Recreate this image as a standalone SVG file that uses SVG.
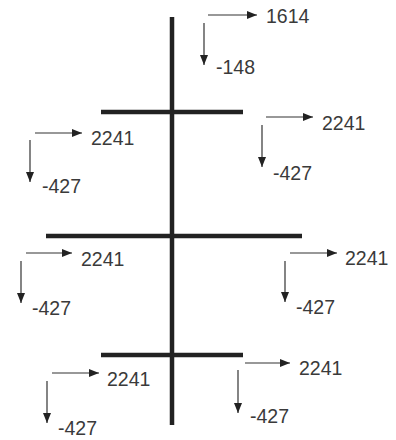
<svg xmlns="http://www.w3.org/2000/svg" width="396" height="440" viewBox="0 0 396 440">
<style>
.m{stroke:#222;stroke-width:4.5;fill:none}
.a{stroke:#333;stroke-width:1.2;fill:none;marker-end:url(#ah)}
text{font-family:"Liberation Sans",Arial,sans-serif;font-size:19.5px;fill:#3a3a3a}
</style>
<defs>
<marker id="ah" viewBox="0 0 10 8" refX="10" refY="4" markerWidth="10" markerHeight="8" markerUnits="userSpaceOnUse" orient="auto">
<path d="M0,0L10,4L0,8z" fill="#222"/>
</marker>
</defs>
<g id="structure">
<line class="m" x1="172" y1="17" x2="172" y2="425"/>
<line class="m" x1="101" y1="112" x2="243" y2="112"/>
<line class="m" x1="46" y1="236" x2="302" y2="236"/>
<line class="m" x1="101" y1="355" x2="243" y2="355"/>
</g>
<g id="connectors">
<line class="a" x1="208" y1="15" x2="257" y2="15"/>
<line class="a" x1="204" y1="23" x2="204" y2="65"/>
<line class="a" x1="35" y1="133" x2="82" y2="133"/>
<line class="a" x1="30" y1="140" x2="30" y2="182"/>
<line class="a" x1="266" y1="117" x2="313" y2="117"/>
<line class="a" x1="262" y1="125" x2="262" y2="167"/>
<line class="a" x1="26" y1="253" x2="72" y2="253"/>
<line class="a" x1="21" y1="261" x2="21" y2="303"/>
<line class="a" x1="290" y1="253" x2="337" y2="253"/>
<line class="a" x1="285" y1="261" x2="285" y2="302"/>
<line class="a" x1="52" y1="373" x2="99" y2="373"/>
<line class="a" x1="47" y1="381" x2="47" y2="423"/>
<line class="a" x1="245" y1="363" x2="290" y2="363"/>
<line class="a" x1="238" y1="370" x2="238" y2="413"/>
</g>
<g id="labels">
<text x="266" y="23">1614</text>
<text x="216" y="74">-148</text>
<text x="91" y="145">2241</text>
<text x="42" y="193">-427</text>
<text x="322" y="130">2241</text>
<text x="273" y="180">-427</text>
<text x="81" y="266">2241</text>
<text x="32" y="315">-427</text>
<text x="345" y="265">2241</text>
<text x="296" y="314">-427</text>
<text x="107" y="386">2241</text>
<text x="58" y="435">-427</text>
<text x="299" y="375">2241</text>
<text x="250" y="423">-427</text>
</g>
</svg>
